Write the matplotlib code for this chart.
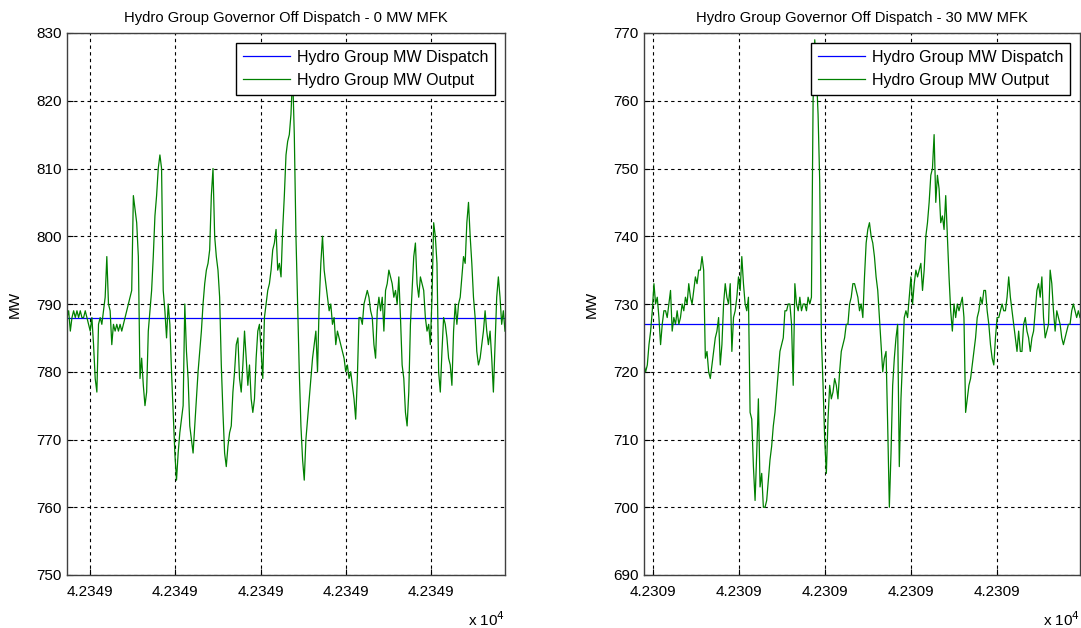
import math
import numpy as np
import matplotlib
matplotlib.use("Agg")
import matplotlib.pyplot as plt
from matplotlib.ticker import MultipleLocator, FuncFormatter

plt.rcParams['font.family'] = ['Liberation Sans', 'DejaVu Sans']

# time span of each record (serial date numbers)
left_span = (42349.39865, 42349.42432)
right_span = (42309.49948, 42309.52480)

# dispatch set points (MW)
left_dispatch = 788.0
right_dispatch = 727.0

# MW output at equal time steps
left_output = [
    788, 789, 786, 788, 789, 788, 789, 788, 789, 788, 788, 789, 788, 787, 786, 788, 784, 779, 777, 787,
    788, 787, 789, 791, 797, 790, 789, 784, 787, 786, 787, 786, 787, 786, 787, 788, 789, 790, 791, 792,
    806, 804, 802, 797, 779, 782, 778, 775, 777, 786, 789, 792, 797, 803, 806, 810, 812, 810, 792, 789,
    785, 790, 787, 780, 774, 768, 764, 768, 771, 773, 775, 790, 783, 779, 772, 770, 768, 772, 776, 780,
    783, 786, 790, 793, 795, 796, 798, 806, 810,
    800, 797, 795, 791, 781, 774, 768, 766, 769, 771, 772, 777, 780, 784, 785, 779, 777, 781, 786, 782,
    778, 781, 776, 774, 776, 782, 786, 787, 783, 779, 788, 790, 792, 793, 795, 798, 799, 801, 795, 796,
    794, 801, 806, 812, 814, 815, 818, 824, 815, 800, 790, 780, 772, 767, 764, 770, 773, 776, 779, 782,
    784, 786, 780, 790, 796, 800, 795, 793, 791, 789, 790, 787, 788, 784, 786, 785, 784, 783, 782, 780,
    781, 779, 780, 778, 776, 773, 779, 788,
    788, 787, 790, 791, 792, 791, 789, 788, 784, 782, 789, 791, 789, 791, 786, 792, 793, 795, 794, 793,
    791, 792, 790, 794, 788, 781, 779, 774, 772, 777, 787, 792, 797, 799, 793, 791, 794, 793, 792, 788,
    786, 787, 784, 791, 802, 800, 796, 780, 777, 783, 788, 787, 785, 782, 781, 778, 786, 790, 787, 790,
    791, 794, 797, 796, 802, 805, 800, 796, 791, 788, 783, 781, 782, 784, 786, 789, 786, 784, 786, 782,
    777, 784, 791, 794, 791, 787, 789, 786,
]

right_output = [
    721, 720, 721, 724, 726, 729, 733, 730, 731, 728, 724, 727, 729, 729, 728, 730, 732, 726, 728, 727,
    729, 727, 728, 730, 729, 731, 730, 733, 731, 730, 732, 734, 733, 735, 735, 737, 735, 722, 723, 720,
    719, 721, 723, 725, 726, 728, 721, 724, 730, 733, 731, 730, 733, 723, 728, 729, 731, 734, 732, 737,
    733, 730, 729, 731, 714, 713, 706, 701, 708, 716, 703, 705, 700, 700, 701, 704, 707, 709, 712, 714,
    717, 720, 723, 724, 725, 729, 729, 730, 730,
    727, 718, 733, 730, 729, 731, 729, 730, 730, 729, 731, 730, 731, 760, 769, 764, 758, 748, 725, 718,
    710, 705, 713, 718, 716, 717, 719, 718, 716, 720, 723, 724, 725, 727, 727, 730, 731, 733, 733, 732,
    731, 729, 730, 728, 734, 739, 741, 742, 740, 739, 737, 734, 732, 728, 724, 720, 722, 723, 712, 700,
    708, 718, 722, 725, 727, 706, 716, 722, 728, 729, 728, 731, 734, 730, 733, 735, 734, 735, 736, 732,
    735, 740, 742, 745, 749, 750, 755, 745,
    749, 747, 742, 743, 741, 746, 740, 734, 729, 726, 730, 728, 730, 729, 730, 731, 728, 714, 716, 718,
    719, 721, 723, 725, 728, 729, 731, 730, 732, 732, 729, 727, 724, 722, 721, 725, 728, 728, 729, 730,
    729, 729, 731, 734, 731, 729, 727, 725, 723, 726, 723, 723, 727, 728, 726, 725, 723, 725, 726, 729,
    732, 733, 731, 734, 728, 725, 726, 727, 735, 733, 729, 726, 729, 728, 727, 725, 724, 725, 726, 727,
    727, 729, 730, 729, 728, 729, 728,
]

left_title = "Hydro Group Governor Off Dispatch - 0 MW MFK"
right_title = "Hydro Group Governor Off Dispatch - 30 MW MFK"
left_ylim = (750, 830)
right_ylim = (690, 770)


def tick_label(v, pos):
    # scaled by 10^4, shown with four decimals like the original
    return "%.4f" % (math.floor(v) / 1e4)


def draw_panel(ax, span, output, dispatch, title, ylim):
    t = np.linspace(span[0], span[1], len(output))
    ax.plot([span[0], span[1]], [dispatch, dispatch], color=(0, 0, 1), lw=0.9,
            label="Hydro Group MW Dispatch")
    ax.plot(t, output, color=(0, 0.5, 0), lw=0.9, label="Hydro Group MW Output")

    ax.set_xlim(span)
    ax.set_ylim(ylim)
    ax.xaxis.set_major_locator(MultipleLocator(0.005))
    ax.yaxis.set_major_locator(MultipleLocator(10))
    ax.xaxis.set_major_formatter(FuncFormatter(tick_label))
    ax.grid(True, color="black", linestyle=(0, (3, 3)), lw=0.8)
    ax.tick_params(direction="in", length=4, labelsize=11, colors="black")
    ax.tick_params(axis="x", pad=7)
    ax.tick_params(axis="y", pad=4)
    for s in ax.spines.values():
        s.set_color("#404040")
        s.set_linewidth(1.0)

    ax.set_title(title, fontsize=10.6, pad=8)
    ax.set_ylabel("MW", fontsize=11, labelpad=10)
    ax.text(1.0, -0.082, r"x 10$^4$", transform=ax.transAxes, ha="right", va="center",
            fontsize=11)

    leg = ax.legend(loc="upper right", fontsize=11.5, fancybox=False, framealpha=1,
                    edgecolor="black", handlelength=2.9, handletextpad=0.45,
                    borderpad=0.45, labelspacing=0.5, borderaxespad=0.6)
    leg.get_frame().set_linewidth(1.0)


fig = plt.figure(figsize=(10.81, 6.28), dpi=100)
ax1 = fig.add_axes([67 / 1081, 53 / 628, 438 / 1081, 542 / 628])
ax2 = fig.add_axes([644 / 1081, 53 / 628, 436 / 1081, 542 / 628])

draw_panel(ax1, left_span, left_output, left_dispatch, left_title, left_ylim)
draw_panel(ax2, right_span, right_output, right_dispatch, right_title, right_ylim)

fig.savefig("out.png", dpi=100)
